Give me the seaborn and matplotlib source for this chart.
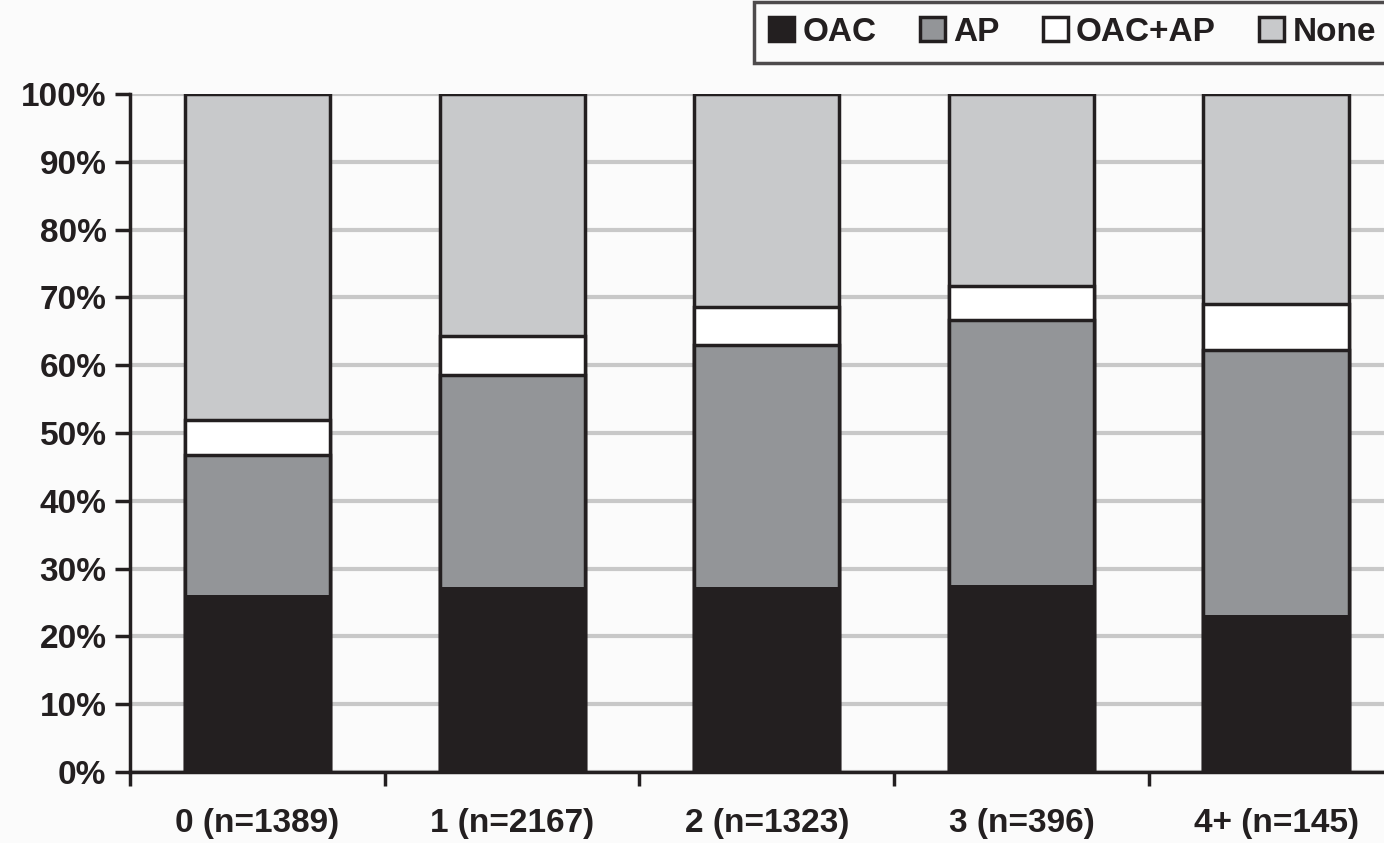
import numpy as np
import pandas as pd
import seaborn as sns
import matplotlib.pyplot as plt
from matplotlib.patches import Patch
from matplotlib.ticker import PercentFormatter, FixedLocator

# data (percent of patients per group)
groups = ['0 (n=1389)', '1 (n=2167)', '2 (n=1323)', '3 (n=396)', '4+ (n=145)']
oac = [26.1, 27.3, 27.3, 27.6, 23.2]
ap = [20.7, 31.3, 35.7, 39.1, 39.0]
oac_ap = [5.1, 5.7, 5.6, 5.0, 6.8]
none = [48.1, 35.7, 31.4, 28.3, 31.0]

series = ['OAC', 'AP', 'OAC+AP', 'None']
colors = {'OAC': '#231f20', 'AP': '#939598', 'OAC+AP': '#ffffff', 'None': '#c8c9cb'}

df = pd.DataFrame({'group': groups, 'OAC': oac, 'AP': ap, 'OAC+AP': oac_ap, 'None': none})
cum = df[series].cumsum(axis=1)
cum['group'] = df['group']

sns.set_style("white")
plt.rcParams['font.family'] = ['Liberation Sans', 'DejaVu Sans']
plt.rcParams['font.weight'] = 'bold'

fig = plt.figure(figsize=(13.84, 8.43), dpi=100, facecolor='#fbfbfb')
ax = fig.add_axes([0.094, 0.0842, 0.92, 0.8043])
ax.set_facecolor('#fbfbfb')

# draw the stack from the top down so each layer covers the one above it
for s in series[::-1]:
    sns.barplot(data=cum, x='group', y=s, color=colors[s], saturation=1,
                width=0.57, edgecolor='#231f20', linewidth=2.5 if s != 'OAC' else 0,
                ax=ax, zorder=3)

ax.set_ylim(0, 100)
ax.set_xlim(-0.5, 4.5)
ax.yaxis.set_major_locator(FixedLocator(np.arange(0, 101, 10)))
ax.yaxis.set_major_formatter(PercentFormatter(decimals=0))
ax.grid(axis='y', color='#c8c8c8', linewidth=3, zorder=0)
ax.set_axisbelow(True)
ax.set_xlabel('')
ax.set_ylabel('')

for side in ['top', 'right']:
    ax.spines[side].set_visible(False)
for side in ['left', 'bottom']:
    ax.spines[side].set_color('#231f20')
    ax.spines[side].set_linewidth(2.5)

ax.tick_params(axis='y', direction='out', length=11, width=2.5, color='#231f20',
               labelsize=24, labelcolor='#231f20', pad=6, left=True)
ax.tick_params(axis='x', which='major', length=0, labelsize=24, labelcolor='#231f20', pad=26)
ax.set_xticks(np.arange(-0.5, 4.6, 1), minor=True)
ax.tick_params(axis='x', which='minor', direction='out', length=10, width=2.5,
               color='#231f20', bottom=True)
for lab in ax.get_xticklabels() + ax.get_yticklabels():
    lab.set_fontweight('bold')

handles = [Patch(facecolor=colors[s], edgecolor='#231f20', linewidth=2.5) for s in series]
leg = fig.legend(handles, series, loc='upper right', bbox_to_anchor=(1.005, 0.998), ncol=4,
                 fontsize=24, frameon=True, fancybox=False, handlelength=0.75,
                 handleheight=0.75, handletextpad=0.25, columnspacing=1.3,
                 borderpad=0.45, borderaxespad=0)
leg.get_frame().set_edgecolor('#231f20')
leg.get_frame().set_linewidth(2.5)
leg.get_frame().set_facecolor('#fbfbfb')
for t in leg.get_texts():
    t.set_color('#231f20')
    t.set_fontweight('bold')

plt.savefig('out.png', dpi=100, facecolor=fig.get_facecolor())
